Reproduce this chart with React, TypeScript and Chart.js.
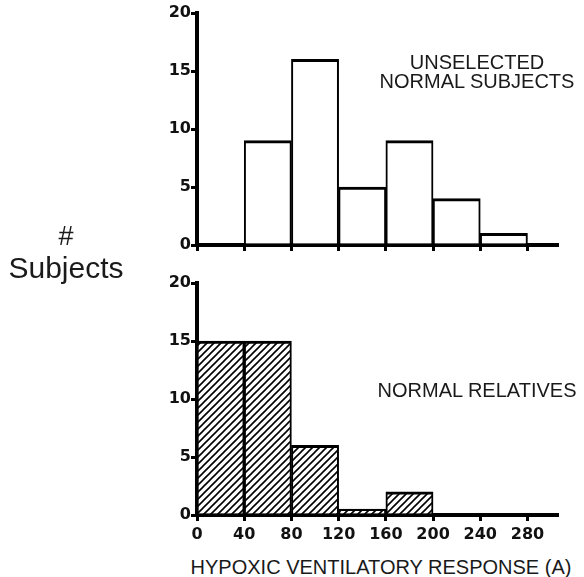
import React, { useEffect, useRef } from "react";
import { Chart, registerables } from "chart.js";
Chart.register(...registerables);

const binCenters = [20, 60, 100, 140, 180, 220, 260];
const unselectedCounts = [0, 9, 16, 5, 9, 4, 1];
const relativesCounts = [15, 15, 6, 0.5, 2, 0, 0];
const xTickValues = [0, 40, 80, 120, 160, 200, 240, 280];
const yTickValues = [0, 5, 10, 15, 20];
const X_MAX = 305;
const Y_MAX = 20;

function toPoints(counts: number[]) {
  return binCenters.map((x, i) => ({ x, y: counts[i] })).filter((p) => p.y > 0);
}

function makeHatch(): CanvasPattern | string {
  const s = 7;
  const c = document.createElement("canvas");
  c.width = s;
  c.height = s;
  const ctx = c.getContext("2d");
  if (!ctx) return "#fff";
  ctx.fillStyle = "#fff";
  ctx.fillRect(0, 0, s, s);
  ctx.strokeStyle = "#000";
  ctx.lineWidth = 1.6;
  ctx.beginPath();
  ctx.moveTo(0, s);
  ctx.lineTo(s, 0);
  ctx.moveTo(-1, 1);
  ctx.lineTo(1, -1);
  ctx.moveTo(s - 1, s + 1);
  ctx.lineTo(s + 1, s - 1);
  ctx.stroke();
  return ctx.createPattern(c, "repeat") || "#fff";
}

const tickFont = { family: "DejaVu Sans", weight: "bold" as const, size: 16 };

function buildConfig(counts: number[], fill: any, showXLabels: boolean, xHeight: number, padding: any): any {
  return {
    type: "bar",
    data: {
      datasets: [
        {
          data: toPoints(counts),
          backgroundColor: fill,
          borderColor: "#000",
          borderWidth: { top: 3, left: 2, right: 2, bottom: 0 },
          borderSkipped: "start",
          barPercentage: 1,
          categoryPercentage: 1,
        },
      ],
    },
    options: {
      animation: false,
      responsive: false,
      maintainAspectRatio: false,
      layout: { padding },
      plugins: { legend: { display: false }, tooltip: { enabled: false }, title: { display: false } },
      scales: {
        x: {
          type: "linear",
          min: 0,
          max: X_MAX,
          offset: false,
          z: 1,
          afterBuildTicks: (s: any) => {
            s.ticks = xTickValues.map((v) => ({ value: v }));
          },
          afterFit: (s: any) => {
            s.height = xHeight;
          },
          ticks: {
            display: showXLabels,
            font: tickFont,
            color: "#111",
            maxRotation: 0,
            autoSkip: false,
            padding: 4,
          },
          grid: { offset: false, drawOnChartArea: false, drawTicks: true, tickLength: 6, lineWidth: 3, color: "#000" },
          border: { display: true, width: 4, color: "#000" },
        },
        y: {
          type: "linear",
          min: 0,
          max: Y_MAX,
          z: 1,
          afterBuildTicks: (s: any) => {
            s.ticks = yTickValues.map((v) => ({ value: v }));
          },
          afterFit: (s: any) => {
            s.width = 47;
          },
          ticks: { font: tickFont, color: "#111", padding: 0 },
          grid: { offset: false, drawOnChartArea: false, drawTicks: true, tickLength: 6, lineWidth: 3, color: "#000" },
          border: { display: true, width: 4, color: "#000" },
        },
      },
    },
  };
}

const textBase: React.CSSProperties = {
  position: "absolute",
  fontFamily: "'Liberation Sans', Arial, sans-serif",
  color: "#1a1a1a",
  whiteSpace: "nowrap",
  transform: "translate(-50%, -50%)",
  textAlign: "center",
};

export default function App() {
  const topRef = useRef<HTMLCanvasElement>(null);
  const botRef = useRef<HTMLCanvasElement>(null);

  useEffect(() => {
    document.body.style.margin = "0";
    const top = new Chart(
      topRef.current as HTMLCanvasElement,
      buildConfig(unselectedCounts, "#fff", false, 10, { left: 150, right: 27, top: 13, bottom: 15 })
    );
    const bot = new Chart(
      botRef.current as HTMLCanvasElement,
      buildConfig(relativesCounts, makeHatch(), true, 30, { left: 150, right: 27, top: 13, bottom: 2 })
    );
    return () => {
      top.destroy();
      bot.destroy();
    };
  }, []);

  return (
    <div style={{ position: "relative", width: 584, height: 577, background: "#fff", overflow: "hidden" }}>
      <canvas ref={topRef} width={584} height={270} style={{ position: "absolute", left: 0, top: 0, width: 584, height: 270 }} />
      <canvas ref={botRef} width={584} height={277} style={{ position: "absolute", left: 0, top: 270, width: 584, height: 277 }} />
      <div style={{ ...textBase, left: 477, top: 72, fontSize: 20, lineHeight: "19px" }}>
        UNSELECTED
        <br />
        NORMAL SUBJECTS
      </div>
      <div style={{ ...textBase, left: 477, top: 390, fontSize: 20 }}>NORMAL RELATIVES</div>
      <div style={{ ...textBase, left: 66, top: 236, fontSize: 27 }}>#</div>
      <div style={{ ...textBase, left: 66, top: 268, fontSize: 30 }}>Subjects</div>
      <div style={{ ...textBase, left: 381, top: 567, fontSize: 20 }}>HYPOXIC VENTILATORY RESPONSE (A)</div>
    </div>
  );
}
